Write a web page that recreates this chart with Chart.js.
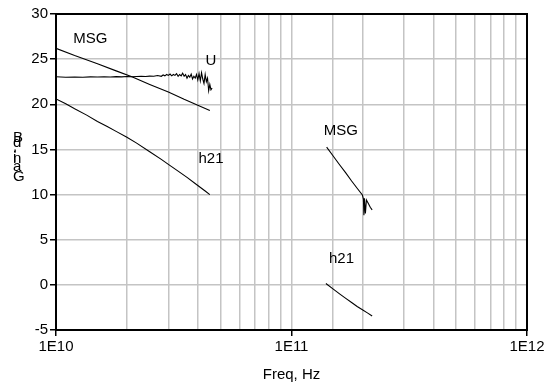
<!DOCTYPE html>
<html>
<head>
<meta charset="utf-8">
<script src="https://cdn.jsdelivr.net/npm/chart.js@4.4.0/dist/chart.umd.min.js"></script>
<style>
  html, body { margin: 0; padding: 0; background: #fff; }
  #gainChart { display: block; }
</style>
</head>
<body>
<canvas id="gainChart" width="559" height="388"></canvas>
<script>
// Dados (frequência em Hz, ganho em dB)
const msgLowFreq = [1.0e10, 1.2e10, 1.5e10, 1.8e10, 2.1e10, 2.5e10, 3.0e10, 3.5e10, 4.0e10, 4.5e10];
const msgLowGain = [26.2, 25.4, 24.5, 23.7, 23.05, 22.2, 21.35, 20.55, 19.9, 19.3];

const h21LowFreq = [1.0e10, 1.1e10, 1.2e10, 1.35e10, 1.5e10, 1.65e10, 1.8e10, 2.0e10, 2.2e10, 2.5e10, 2.8e10, 3.0e10, 3.3e10, 3.6e10, 4.0e10, 4.3e10, 4.5e10];
const h21LowGain = [20.6, 20.05, 19.5, 18.8, 18.1, 17.55, 17.0, 16.35, 15.7, 14.75, 13.9, 13.35, 12.6, 11.9, 11.0, 10.4, 10.0];

const uFreq = [1.0e10, 1.1e10, 1.2e10, 1.3e10, 1.4e10, 1.5e10, 1.6e10, 1.7e10, 1.8e10, 1.9e10,
  2.0e10, 2.1e10, 2.2e10, 2.3e10, 2.4e10, 2.5e10, 2.6e10, 2.7e10, 2.8e10, 2.85e10,
  2.9e10, 2.95e10, 3.0e10, 3.05e10, 3.1e10, 3.15e10, 3.2e10, 3.25e10, 3.3e10, 3.35e10,
  3.4e10, 3.45e10, 3.5e10, 3.55e10, 3.6e10, 3.65e10, 3.7e10, 3.75e10, 3.8e10, 3.85e10,
  3.9e10, 3.95e10, 4.0e10, 4.05e10, 4.1e10, 4.15e10, 4.2e10, 4.25e10, 4.3e10, 4.35e10,
  4.4e10, 4.45e10, 4.5e10, 4.55e10, 4.6e10];
const uGain = [23.05, 23.0, 23.03, 23.0, 23.04, 23.02, 23.05, 23.03, 23.06, 23.04,
  23.07, 23.05, 23.08, 23.1, 23.07, 23.12, 23.1, 23.18, 23.1, 23.25,
  23.15, 23.3, 23.2, 23.35, 23.15, 23.3, 23.2, 23.4, 23.1, 23.3,
  23.15, 23.45, 23.1, 23.3, 22.9, 23.2, 23.0, 23.35, 22.8, 23.1,
  22.9, 23.3, 22.7, 23.4, 22.6, 23.5, 22.8, 22.3, 23.3, 22.5,
  22.9, 21.5, 22.2, 21.6, 21.8];

const msgHighFreq = [1.41e11, 1.5e11, 1.6e11, 1.7e11, 1.8e11, 1.9e11, 2.0e11, 2.02e11, 2.03e11, 2.04e11, 2.06e11, 2.08e11, 2.12e11, 2.16e11, 2.2e11];
const msgHighGain = [15.25, 14.3, 13.3, 12.4, 11.5, 10.7, 9.95, 9.5, 7.7, 9.6, 7.9, 9.4, 9.0, 8.6, 8.3];

const h21HighFreq = [1.4e11, 1.5e11, 1.6e11, 1.7e11, 1.8e11, 1.9e11, 2.0e11, 2.1e11, 2.2e11];
const h21HighGain = [0.15, -0.45, -1.0, -1.5, -1.95, -2.4, -2.75, -3.1, -3.45];

// Rótulos dentro do gráfico
const labelText = ["MSG", "U", "h21", "MSG", "h21"];
const labelFreq = [1.4e10, 4.55e10, 4.55e10, 1.62e11, 1.63e11];
const labelGain = [27.3, 24.8, 14.0, 17.1, 2.9];

const yTicks = [-5, 0, 5, 10, 15, 20, 25, 30];

const FONT = "'Liberation Sans', Arial, sans-serif";

function toPoints(xs, ys) {
  return xs.map((x, i) => ({ x: x, y: ys[i] }));
}

function serie(name, xs, ys) {
  return {
    label: name,
    data: toPoints(xs, ys),
    borderColor: "#000",
    borderWidth: 1.1,
    pointRadius: 0,
    fill: false,
    tension: 0
  };
}

function isDecade(v) {
  const e = Math.log10(v);
  return Math.abs(e - Math.round(e)) < 1e-6;
}

// Moldura, rótulos das curvas e título do eixo Y (letras empilhadas)
const extras = {
  id: "extras",
  afterDatasetsDraw(chart) {
    const ctx = chart.ctx;
    const xs = chart.scales.x;
    const ys = chart.scales.y;
    const area = chart.chartArea;
    ctx.save();
    ctx.strokeStyle = "#000";
    ctx.lineWidth = 2;
    ctx.strokeRect(area.left, area.top, area.right - area.left, area.bottom - area.top);

    ctx.fillStyle = "#000";
    ctx.font = "15px " + FONT;
    ctx.textAlign = "center";
    ctx.textBaseline = "middle";
    labelText.forEach((t, i) => {
      ctx.fillText(t, xs.getPixelForValue(labelFreq[i]), ys.getPixelForValue(labelGain[i]));
    });

    // "Gain, dB" desenhado letra por letra, como no original
    ctx.textAlign = "left";
    ctx.textBaseline = "alphabetic";
    const letters = [["G", 181], ["a", 171], ["n", 163], ["i", 162], [",", 151], ["d", 147], ["B", 142]];
    letters.forEach(([c, y]) => ctx.fillText(c, 13, y));
    ctx.restore();
  }
};

new Chart(document.getElementById("gainChart"), {
  type: "line",
  data: {
    datasets: [
      serie("MSG", msgLowFreq, msgLowGain),
      serie("U", uFreq, uGain),
      serie("h21", h21LowFreq, h21LowGain),
      serie("MSG2", msgHighFreq, msgHighGain),
      serie("h21b", h21HighFreq, h21HighGain)
    ]
  },
  options: {
    responsive: false,
    animation: false,
    devicePixelRatio: 1,
    layout: { padding: { top: 14, right: 32, left: 0, bottom: 0 } },
    plugins: {
      legend: { display: false },
      tooltip: { enabled: false }
    },
    scales: {
      x: {
        type: "logarithmic",
        min: 1e10,
        max: 1e12,
        afterFit(s) { s.height = 58; },
        border: { color: "#000", width: 2 },
        grid: {
          color: "#c4c4c4",
          lineWidth: 1.5,
          tickLength: 6,
          tickColor: (c) => (c.tick && isDecade(c.tick.value) ? "#000" : "rgba(0,0,0,0)"),
          tickWidth: 1.5
        },
        ticks: {
          autoSkip: false,
          maxRotation: 0,
          padding: 2,
          color: "#000",
          font: { family: FONT, size: 15 },
          callback: (v) => (isDecade(v) ? "1E" + Math.round(Math.log10(v)) : "")
        },
        title: {
          display: true,
          text: "Freq, Hz",
          color: "#000",
          font: { family: FONT, size: 15 },
          padding: { top: 0, bottom: 4 }
        }
      },
      y: {
        min: -5,
        max: 30,
        afterFit(s) { s.width = 56; },
        afterBuildTicks(s) { s.ticks = yTicks.map((v) => ({ value: v })); },
        border: { color: "#000", width: 2 },
        grid: {
          color: "#c4c4c4",
          lineWidth: 1.5,
          tickLength: 6,
          tickColor: "#000",
          tickWidth: 1.5
        },
        ticks: {
          padding: 2,
          color: "#000",
          font: { family: FONT, size: 15 }
        }
      }
    }
  },
  plugins: [extras]
});
</script>
</body>
</html>
